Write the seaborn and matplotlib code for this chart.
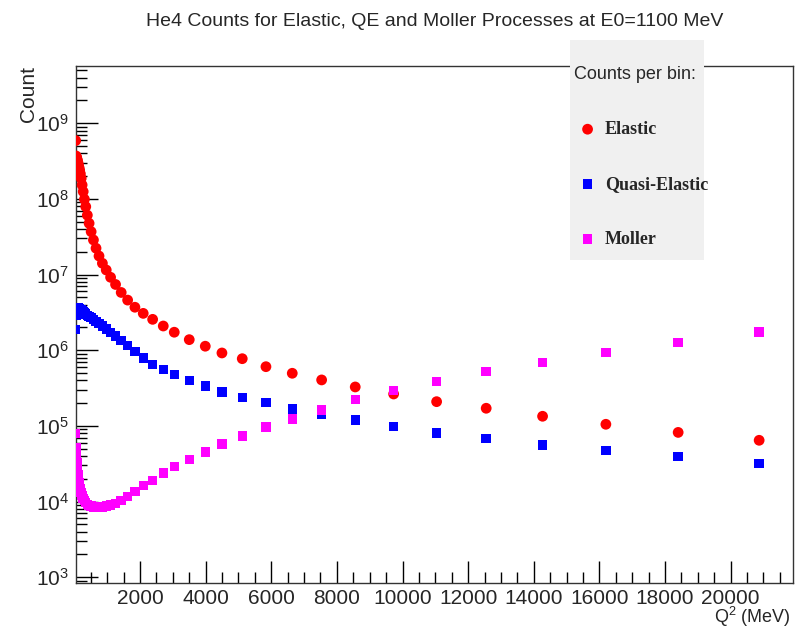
import numpy as np
import matplotlib
matplotlib.use("Agg")
import matplotlib.pyplot as plt
import matplotlib.ticker as mticker
from matplotlib.patches import Rectangle
from matplotlib.font_manager import FontProperties
import pandas as pd
import seaborn as sns

# Q^2 bin centres (MeV)
q2 = [40, 51, 58, 66, 75, 85, 97, 110, 125, 142, 161, 183, 208, 236, 269, 306,
      347, 395, 449, 511, 581, 660, 751, 854, 971, 1104, 1255, 1427, 1623, 1845,
      2098, 2385, 2709, 3044, 3501, 3989, 4497, 5116, 5838, 6640, 7535, 8559,
      9729, 11039, 12550, 14268, 16197, 18400, 20868]

# counts per bin
elastic = [5.9e8, 3.7e8, 3.6e8, 3.5e8, 3.4e8, 3.3e8, 3.15e8, 3.0e8, 2.8e8, 2.6e8,
           2.4e8, 2.15e8, 1.87e8, 1.53e8, 1.25e8, 9.9e7, 7.9e7, 6.1e7, 4.76e7,
           3.69e7, 2.87e7, 2.23e7, 1.76e7, 1.41e7, 1.15e7, 9.2e6, 7.4e6, 5.8e6,
           4.6e6, 3.7e6, 3.07e6, 2.56e6, 2.09e6, 1.73e6, 1.38e6, 1.13e6, 9.2e5,
           7.73e5, 6.06e5, 4.96e5, 4.05e5, 3.27e5, 2.64e5, 2.09e5, 1.71e5, 1.34e5,
           1.05e5, 8.2e4, 6.45e4]
quasi_elastic = [1.87e6, 2.9e6, 3.1e6, 3.25e6, 3.4e6, 3.5e6, 3.6e6, 3.6e6, 3.6e6,
                 3.55e6, 3.5e6, 3.45e6, 3.4e6, 3.3e6, 3.2e6, 3.1e6, 3.0e6, 2.9e6,
                 2.8e6, 2.7e6, 2.55e6, 2.4e6, 2.25e6, 2.1e6, 1.92e6, 1.73e6, 1.54e6,
                 1.35e6, 1.15e6, 9.6e5, 7.9e5, 6.44e5, 5.55e5, 4.75e5, 3.95e5, 3.35e5,
                 2.82e5, 2.38e5, 2.02e5, 1.68e5, 1.41e5, 1.19e5, 9.9e4, 8.1e4, 6.8e4,
                 5.6e4, 4.7e4, 3.95e4, 3.2e4]
moller = [8.0e4, 5.1e4, 4.4e4, 3.8e4, 3.3e4, 2.9e4, 2.55e4, 2.25e4, 2.0e4, 1.8e4,
          1.62e4, 1.46e4, 1.32e4, 1.2e4, 1.1e4, 1.03e4, 9.7e3, 9.2e3, 8.9e3, 8.7e3,
          8.5e3, 8.4e3, 8.4e3, 8.5e3, 8.7e3, 9.0e3, 9.5e3, 1.03e4, 1.16e4, 1.35e4,
          1.62e4, 1.91e4, 2.38e4, 2.89e4, 3.57e4, 4.52e4, 5.77e4, 7.36e4, 9.68e4,
          1.24e5, 1.62e5, 2.22e5, 2.92e5, 3.84e5, 5.21e5, 6.84e5, 9.4e5, 1.27e6,
          1.74e6]

x_ticks = [2000, 4000, 6000, 8000, 10000, 12000, 14000, 16000, 18000, 20000]
y_ticks = [1e3, 1e4, 1e5, 1e6, 1e7, 1e8, 1e9]

df = pd.DataFrame({"Q2": q2, "Elastic": elastic, "Quasi-Elastic": quasi_elastic,
                   "Moller": moller})

sns.set_style("ticks")
plt.rcParams["font.family"] = ["Liberation Sans", "DejaVu Sans"]
plt.rcParams["mathtext.fontset"] = "custom"
plt.rcParams["mathtext.rm"] = "Liberation Sans"
plt.rcParams["mathtext.it"] = "Liberation Sans:italic"

fig = plt.figure(figsize=(7.95, 6.30), dpi=100)
ax = fig.add_axes([0.0952, 0.0741, 0.9975 - 0.0952, 0.8952 - 0.0741])

# series: column, color, marker, size
series = [("Elastic", "#ff0000", "o", 60),
          ("Quasi-Elastic", "#0000ff", "s", 46),
          ("Moller", "#ff00ff", "s", 46)]
for name, col, mk, sz in series:
    sns.scatterplot(data=df, x="Q2", y=name, color=col, marker=mk, s=sz,
                    linewidth=0, edgecolor="none", label=name, ax=ax, zorder=3)

ax.set_yscale("log")
ax.set_xlim(40, 21900)
ax.set_ylim(830, 5.71e9)

ax.xaxis.set_major_locator(mticker.FixedLocator(x_ticks))
ax.xaxis.set_minor_locator(mticker.MultipleLocator(500))
ax.xaxis.set_major_formatter(mticker.FormatStrFormatter("%d"))
ax.yaxis.set_major_locator(mticker.FixedLocator(y_ticks))
ax.yaxis.set_major_formatter(mticker.LogFormatterSciNotation())
ax.yaxis.set_minor_locator(mticker.LogLocator(base=10, subs=np.arange(2, 10), numticks=20))
ax.yaxis.set_minor_formatter(mticker.NullFormatter())

ax.tick_params(which="both", direction="in", top=False, right=False,
               labelsize=15, color="black")
ax.tick_params(which="major", length=15.8, width=1)
ax.tick_params(which="minor", length=7.9, width=1)
ax.tick_params(axis="x", pad=4)
ax.tick_params(axis="y", pad=5)
for s in ax.spines.values():
    s.set_color("#333333")
    s.set_linewidth(1)

ax.set_xlabel("Q$^{2}$ (MeV)", fontsize=13)
ax.xaxis.set_label_coords(0.9965, -0.0425)
ax.xaxis.label.set_horizontalalignment("right")
ax.set_ylabel("Count", fontsize=15, loc="top", labelpad=-2)
ax.set_title("He4 Counts for Elastic, QE and Moller Processes at E0=1100 MeV",
             fontsize=14, y=1.0, pad=29)

# legend box, ROOT style
ax.add_patch(Rectangle((570 / 795, 1 - 260 / 630), 134 / 795, 220 / 630,
                       transform=fig.transFigure, facecolor="#f0f0f0",
                       edgecolor="none", clip_on=False, zorder=4))
handles, labels = ax.get_legend_handles_labels()
leg = ax.legend(handles, labels, title="Counts per bin:", loc="upper left",
                bbox_to_anchor=(565 / 795, 1 - 57 / 630),
                bbox_transform=fig.transFigure, frameon=False,
                prop=FontProperties(family="Liberation Serif", weight="bold", size=13),
                title_fontproperties=FontProperties(family="Liberation Sans", size=13),
                labelspacing=2.1, handlelength=1.5, handletextpad=0.2,
                borderpad=0, alignment="left", markerscale=1.0)
leg.set_zorder(5)

fig.savefig("out.png", dpi=100)
